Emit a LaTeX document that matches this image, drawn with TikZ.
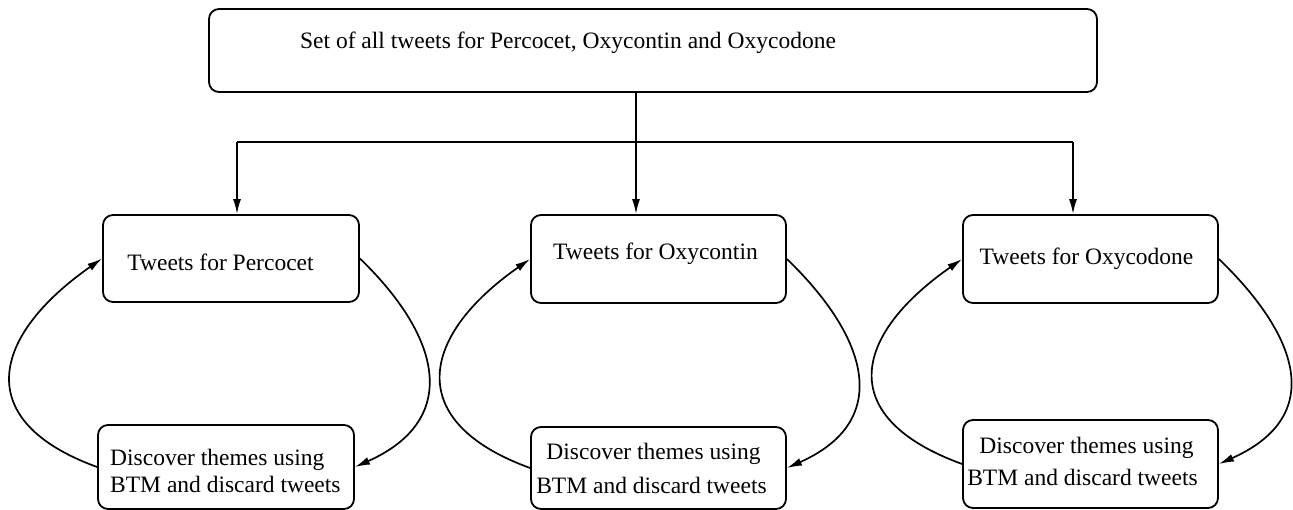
\documentclass[tikz,border=0pt]{standalone}
\usepackage{fontspec}
\setmainfont{Liberation Serif}
\usetikzlibrary{arrows.meta}
\begin{document}
\begin{tikzpicture}[x=1pt,y=1pt,
  box/.style={draw,rounded corners=10pt,line width=1.8pt,inner sep=0pt},
  txt/.style={inner sep=0pt,font=\fontsize{23.5}{28}\selectfont},
  arr/.style={line width=1.7pt,-{Latex[length=15pt,width=8pt]}},
  ln/.style={line width=1.7pt}]
\useasboundingbox (0,0) rectangle (1293,-510);
% boxes
\node[box,minimum width=888pt,minimum height=83pt] (top) at (653,-50.5) {};
\node[box,minimum width=256pt,minimum height=87pt] (t1) at (231,-258.5) {};
\node[box,minimum width=255pt,minimum height=88pt] (t2) at (658.5,-259) {};
\node[box,minimum width=255pt,minimum height=88pt] (t3) at (1090.5,-259) {};
\node[box,minimum width=256pt,minimum height=84pt] (b1) at (226,-467) {};
\node[box,minimum width=255pt,minimum height=82pt] (b2) at (658.5,-468) {};
\node[box,minimum width=255pt,minimum height=88pt] (b3) at (1090.5,-464) {};
% texts
\node[txt,anchor=base] (toptext) at (568,-49) {Set of all tweets for Percocet, Oxycontin and Oxycodone};
\node[txt,anchor=base] (tt1) at (220.5,-271) {Tweets for Percocet};
\node[txt,anchor=base] (tt2) at (655.5,-260) {Tweets for Oxycontin};
\node[txt,anchor=base] (tt3) at (1086.5,-265) {Tweets for Oxycodone};
\node[txt,anchor=base west] (b1a) at (110,-465) {Discover themes using};
\node[txt,anchor=base west] (b1b) at (110,-492) {BTM and discard tweets};
\node[txt,anchor=base] (b2a) at (653.5,-459) {Discover themes using};
\node[txt,anchor=base] (b2b) at (651.5,-493) {BTM and discard tweets};
\node[txt,anchor=base] (b3a) at (1086.5,-453) {Discover themes using};
\node[txt,anchor=base] (b3b) at (1082.5,-485) {BTM and discard tweets};
% splitting connectors
\coordinate (split) at (636,-142);
\coordinate (bl) at (237,-142);
\coordinate (br) at (1073,-142);
\draw[arr] (top.south -| split) -- (t2.north -| split);
\draw[ln] (bl) -- (br);
\draw[arr] (bl) -- (bl |- t1.north);
\draw[arr] (br) -- (br |- t3.north);
% loops
\draw[arr] (b1.west) .. controls +(160:135) and +(215:135) .. (t1.west);
\draw[arr] (t1.east) .. controls +(-44:115) and +(24:115) .. (b1.east);
\draw[arr] (b2.west) .. controls +(160:135) and +(215:135) .. (t2.west);
\draw[arr] (t2.east) .. controls +(-44:115) and +(24:115) .. (b2.east);
\draw[arr] (b3.west) .. controls +(160:135) and +(215:135) .. (t3.west);
\draw[arr] (t3.east) .. controls +(-44:115) and +(24:115) .. (b3.east);
\end{tikzpicture}
\end{document}
